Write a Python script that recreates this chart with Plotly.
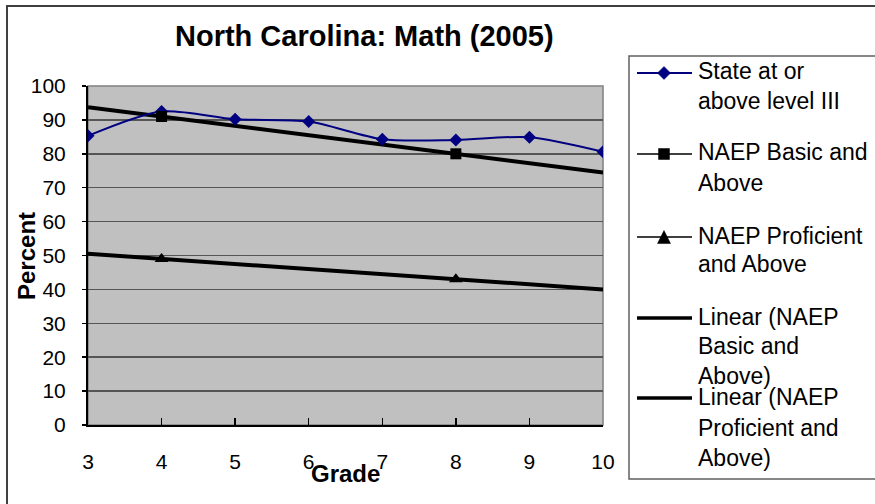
import numpy as np
import plotly.graph_objects as go

# ---- data ----
grades = [3, 4, 5, 6, 7, 8, 9, 10]
grade_labels = ["3", "4", "5", "6", "7", "8", "9", "10"]
state_level3 = [85.3, 92.5, 90.2, 89.5, 84.3, 84.1, 84.9, 80.6]
naep_grades = [4, 8]
naep_basic = [91, 80]
naep_proficient = [49, 43]
y_ticks = [0, 10, 20, 30, 40, 50, 60, 70, 80, 90, 100]

title_text = "North Carolina: Math (2005)"
legend_entries = [
    ["State at or", "above level III"],
    ["NAEP Basic and", "Above"],
    ["NAEP Proficient", "and Above"],
    ["Linear (NAEP", "Basic and", "Above)"],
    ["Linear (NAEP", "Proficient and", "Above)"],
]

# ---- layout geometry (pixels) ----
W, H = 875, 504
PL, PR, PT, PB = 88, 603, 86, 425
FONT = "Liberation Sans, Arial, sans-serif"
NAVY = "#000080"


def fx(x):
    return x / W


def fy(y):
    return 1 - y / H


# trend lines (linear fit through the NAEP points, extended over the axis)
def trend(xs, ys):
    m, b = np.polyfit(xs, ys, 1)
    xe = [grades[0], grades[-1]]
    return xe, [m * v + b for v in xe]


tb_x, tb_y = trend(naep_grades, naep_basic)
tp_x, tp_y = trend(naep_grades, naep_proficient)

fig = go.Figure()
fig.add_trace(go.Scatter(x=tb_x, y=tb_y, mode="lines",
                         line=dict(color="black", width=4),
                         name="Linear (NAEP Basic and Above)", showlegend=False))
fig.add_trace(go.Scatter(x=tp_x, y=tp_y, mode="lines",
                         line=dict(color="black", width=4),
                         name="Linear (NAEP Proficient and Above)", showlegend=False))
fig.add_trace(go.Scatter(x=grades, y=state_level3, mode="lines+markers",
                         line=dict(color=NAVY, width=2, shape="spline", smoothing=0.8),
                         marker=dict(symbol="diamond", size=10, color=NAVY),
                         name="State at or above level III", showlegend=False))
fig.add_trace(go.Scatter(x=naep_grades, y=naep_basic, mode="markers",
                         marker=dict(symbol="square", size=11, color="black"),
                         name="NAEP Basic and Above", showlegend=False))
fig.add_trace(go.Scatter(x=naep_grades, y=naep_proficient, mode="markers",
                         marker=dict(symbol="triangle-up", size=12, color="black"),
                         name="NAEP Proficient and Above", showlegend=False))

shapes = []
# plot area background + frame
shapes.append(dict(type="rect", xref="x domain", yref="y domain", x0=0, x1=1, y0=0, y1=1,
                   fillcolor="#C0C0C0", line=dict(color="#808080", width=1.5), layer="below"))
# outer chart border (only top/left visible)
shapes.append(dict(type="rect", xref="paper", yref="paper", x0=fx(7), x1=1.05, y0=-0.05, y1=fy(6),
                   line=dict(color="#404040", width=2), fillcolor="rgba(0,0,0,0)"))
# legend box
shapes.append(dict(type="rect", xref="paper", yref="paper", x0=fx(629), x1=1.05, y0=fy(479), y1=fy(56),
                   line=dict(color="#606060", width=1.5), fillcolor="white"))

# legend symbols
sym_y = [73, 154, 237, 318, 398]
sym_line = [(NAVY, 2), ("black", 1.5), ("black", 1.5), ("black", 3.5), ("black", 3.5)]
for yy, (c, w) in zip(sym_y, sym_line):
    shapes.append(dict(type="line", xref="paper", yref="paper", x0=fx(637), x1=fx(692),
                       y0=fy(yy), y1=fy(yy), line=dict(color=c, width=w)))


def path(points):
    s = "M " + " L ".join(f"{fx(a):.5f},{fy(b):.5f}" for a, b in points) + " Z"
    return s


cx = 664
# diamond
d = 6.5
shapes.append(dict(type="path", xref="paper", yref="paper",
                   path=path([(cx, sym_y[0] - d), (cx + d, sym_y[0]), (cx, sym_y[0] + d), (cx - d, sym_y[0])]),
                   fillcolor=NAVY, line=dict(color=NAVY, width=0.5)))
# square
s = 5.5
shapes.append(dict(type="path", xref="paper", yref="paper",
                   path=path([(cx - s, sym_y[1] - s), (cx + s, sym_y[1] - s), (cx + s, sym_y[1] + s), (cx - s, sym_y[1] + s)]),
                   fillcolor="black", line=dict(color="black", width=0.5)))
# triangle
t = 6.5
shapes.append(dict(type="path", xref="paper", yref="paper",
                   path=path([(cx, sym_y[2] - t), (cx + t, sym_y[2] + t), (cx - t, sym_y[2] + t)]),
                   fillcolor="black", line=dict(color="black", width=0.5)))

annotations = []
# legend text lines
line_y = [[71, 101], [152, 183], [236, 264], [317, 346, 376], [397, 428, 458]]
for entry, ys in zip(legend_entries, line_y):
    for txt, yy in zip(entry, ys):
        annotations.append(dict(text=txt, xref="paper", yref="paper", x=fx(696), y=fy(yy),
                                xanchor="left", yanchor="middle", showarrow=False,
                                font=dict(family=FONT, size=23, color="black")))
# title
annotations.append(dict(text="<b>" + title_text + "</b>", xref="paper", yref="paper",
                        x=fx(364), y=fy(36), xanchor="center", yanchor="middle", showarrow=False,
                        font=dict(family=FONT, size=29, color="black")))
# axis titles
annotations.append(dict(text="<b>Grade</b>", xref="paper", yref="paper",
                        x=fx(345), y=fy(473), xanchor="center", yanchor="middle", showarrow=False,
                        font=dict(family=FONT, size=24, color="black")))
annotations.append(dict(text="<b>Percent</b>", xref="paper", yref="paper",
                        x=fx(26), y=fy(256), xanchor="center", yanchor="middle", showarrow=False,
                        textangle=-90, font=dict(family=FONT, size=24, color="black")))

fig.update_layout(
    width=W, height=H,
    margin=dict(l=0, r=0, t=0, b=0, autoexpand=False),
    paper_bgcolor="white", plot_bgcolor="rgba(0,0,0,0)",
    showlegend=False,
    shapes=shapes, annotations=annotations,
    xaxis=dict(domain=[fx(PL), fx(PR)], range=[grades[0], grades[-1]],
               tickvals=grades, ticktext=grade_labels,
               ticks="inside", ticklen=7, tickwidth=1.5, tickcolor="black",
               showline=True, linecolor="black", linewidth=2,
               showgrid=False, zeroline=False, automargin=False,
               tickfont=dict(family=FONT, size=21, color="black"),
               ticklabelstandoff=17),
    yaxis=dict(domain=[fy(PB), fy(PT)], range=[0, 100],
               tickvals=y_ticks,
               ticks="outside", ticklen=4, tickwidth=1.5, tickcolor="black",
               showline=True, linecolor="black", linewidth=2,
               showgrid=True, gridcolor="#555555", gridwidth=1.5, zeroline=False, automargin=False,
               tickfont=dict(family=FONT, size=21, color="black"),
               ticklabelstandoff=12),
)

fig.write_html(
    "out.html",
    config={"displayModeBar": False, "staticPlot": True},
    post_script="document.body.style.margin='0';document.body.style.overflow='hidden';",
)
